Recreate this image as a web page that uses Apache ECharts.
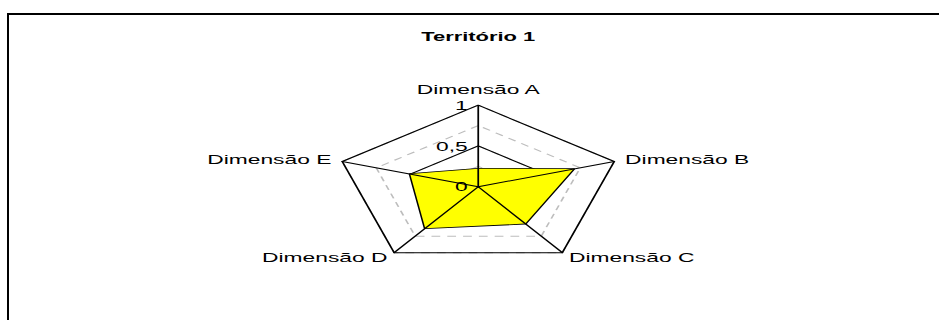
<!DOCTYPE html>
<html>
<head>
<meta charset="utf-8">
<script src="https://cdn.jsdelivr.net/npm/echarts@6/dist/echarts.min.js"></script>
<style>
  html, body { margin: 0; padding: 0; background: #fff; }
  #wrap { position: relative; width: 939px; height: 320px; overflow: hidden; }
  #frame { position: absolute; left: 7px; top: 13px; right: -10px; bottom: -10px;
           border-top: 2px solid #000; border-left: 2px solid #000; }
  #chart { position: absolute; left: 0; top: 0; width: 545px; height: 320px;
           transform: scaleX(1.755); transform-origin: 0 0; }
</style>
</head>
<body>
<div id="wrap">
  <div id="frame"></div>
  <div id="chart"></div>
</div>
<script>
var categories = ['Dimensão A', 'Dimensão B', 'Dimensão C', 'Dimensão D', 'Dimensão E'];
var values = [0.22, 0.70, 0.56, 0.63, 0.50];
var tickMax = 1;

// echarts goes round counter-clockwise, the picture goes clockwise
var order = [0, 4, 3, 2, 1];
var indicator = order.map(function (i, k) {
    var ind = { name: categories[i], min: 0, max: tickMax };
    if (k === 0) ind.axisLabel = { show: true };
    return ind;
});
var seriesData = order.map(function (i) { return values[i]; });

var center = ['50%', 186.7];
var radius = 81.5;

var chart = echarts.init(document.getElementById('chart'), null, { renderer: 'svg' });
var option = {
    backgroundColor: 'transparent',
    animation: false,
    title: {
        text: 'Território 1',
        left: 'center',
        top: 30,
        padding: 0,
        textStyle: { fontFamily: 'Arial', fontSize: 12.5, fontWeight: 'bold', color: '#000' }
    },
    radar: [{
        // dashed rings
        z: 1,
        center: center, radius: radius, splitNumber: 4,
        indicator: indicator.map(function (d) { return { name: d.name, min: 0, max: tickMax }; }),
        axisName: { show: false },
        axisLine: { show: false },
        splitArea: { show: false },
        splitLine: { lineStyle: { color: '#bdbdbd', width: 1, type: [5, 4] } }
    }, {
        // solid rings
        z: 1,
        center: center, radius: radius, splitNumber: 2,
        indicator: indicator.map(function (d) { return { name: d.name, min: 0, max: tickMax }; }),
        axisName: { show: false },
        axisLine: { show: false },
        splitArea: { show: false },
        splitLine: { lineStyle: { color: '#000', width: 1 } }
    }, {
        // spokes, names and tick labels on top
        z: 3,
        center: center, radius: radius, splitNumber: 2,
        indicator: indicator,
        nameGap: 6.5,
        axisName: { color: '#000', fontFamily: 'Arial', fontSize: 13, padding: [0, 0, 3, 0] },
        axisLine: { lineStyle: { color: '#000', width: 1 } },
        splitLine: { show: false },
        splitArea: { show: false },
        axisLabel: {
            show: false, color: '#000', fontFamily: 'Arial', fontSize: 13, margin: 6,
            formatter: function (v) { return String(v).replace('.', ','); }
        }
    }],
    series: [{
        type: 'radar',
        radarIndex: 1,
        z: 2,
        symbol: 'none',
        lineStyle: { color: '#000', width: 1.75 },
        areaStyle: { color: '#ffff00', opacity: 1 },
        data: [{ value: seriesData, name: 'Território 1' }]
    }]
};
chart.setOption(option);
</script>
</body>
</html>
